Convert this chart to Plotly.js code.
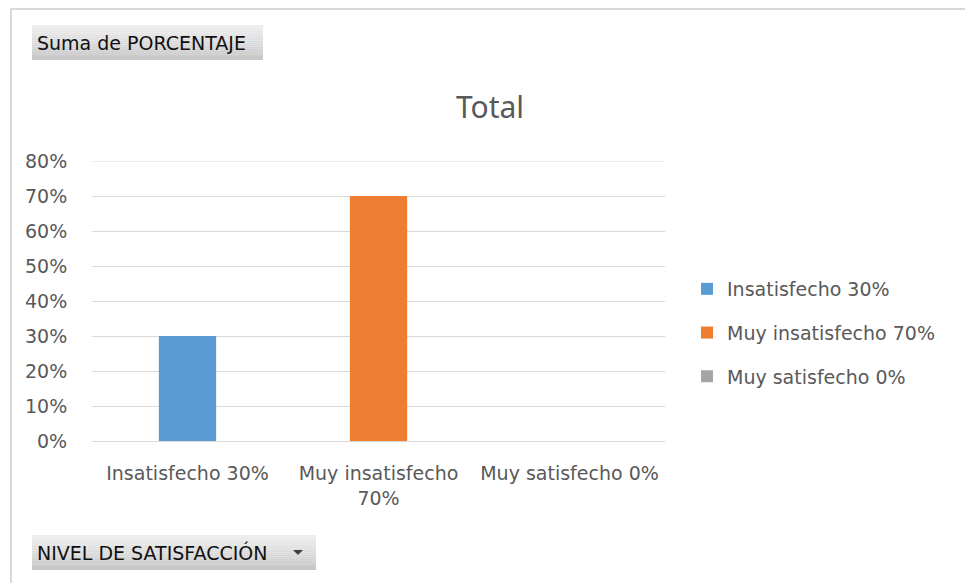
<!DOCTYPE html>
<html>
<head>
<meta charset="utf-8">
<script src="https://cdn.plot.ly/plotly-3.0.1.min.js"></script>
<style>
html,body{margin:0;padding:0;background:#fff;}
#chart{width:965px;height:583px;}
</style>
</head>
<body>
<div id="chart"></div>
<script>
var categories = ["Insatisfecho 30%", "Muy insatisfecho 70%", "Muy satisfecho 0%"];
var tickLabels = ["Insatisfecho 30%", "Muy insatisfecho<br>70%", "Muy satisfecho 0%"];
var values = [0.30, 0.70, 0.00];
var yTicks = [0, 0.1, 0.2, 0.3, 0.4, 0.5, 0.6, 0.7, 0.8];
var colors = ["#5b9bd5", "#ed7d31", "#a5a5a5"];

var FONT = "DejaVu Sans, Noto Sans, sans-serif";
var TFONT = "Noto Sans, Open Sans, sans-serif";
var TXT = "#595959";

var traces = categories.map(function(c, i){
  return {
    type: "bar",
    x: [c],
    y: [values[i]],
    name: categories[i],
    legendgroup: "g" + i,
    marker: {color: colors[i]},
    width: 0.3,
    hoverinfo: "x+y"
  };
});

// pixel helpers for paper coords (plot area: x 92..665, y 161..441)
var L = 92, R = 665, T = 161, B = 441;
function px(x){ return (x - L) / (R - L); }
function py(y){ return (B - y) / (B - T); }

function gradBox(x0, y0, x1, y1){
  var out = [];
  var n = 18;
  var top = [238,238,238], bot = [198,198,198];
  for (var k = 0; k < n; k++){
    var t = k / (n - 1);
    var c = top.map(function(v, j){ return Math.round(v + (bot[j] - v) * t); });
    out.push({type: "rect", xref: "paper", yref: "paper", layer: "below",
      x0: px(x0), x1: px(x1),
      y0: py(y0 + (y1 - y0) * k / n), y1: py(y0 + (y1 - y0) * (k + 1) / n),
      fillcolor: "rgb(" + c.join(",") + ")", line: {width: 0}});
  }
  return out;
}

var shapes = [];
// chart outer border (top and left)
shapes.push({type: "line", xref: "paper", yref: "paper", x0: px(10), x1: px(965), y0: py(9), y1: py(9), line: {color: "#d9d9d9", width: 2}});
shapes.push({type: "line", xref: "paper", yref: "paper", x0: px(11), x1: px(11), y0: py(9), y1: py(583), line: {color: "#d9d9d9", width: 2}});
// top gridline at the range end
shapes.push({type: "line", xref: "paper", yref: "y", layer: "below", x0: 0, x1: 1, y0: yTicks[yTicks.length - 1], y1: yTicks[yTicks.length - 1], line: {color: "#d9d9d9", width: 1}});
shapes = shapes.concat(gradBox(32, 25, 263, 60));
shapes = shapes.concat(gradBox(32, 535, 316, 570));
// dropdown triangle
shapes.push({type: "path", xref: "paper", yref: "paper",
  path: "M " + px(293) + "," + py(550) + " L " + px(303) + "," + py(550) + " L " + px(298) + "," + py(555) + " Z",
  fillcolor: "#404040", line: {width: 0}});

var annotations = [
  {xref: "paper", yref: "paper", x: px(35), y: py(43), xanchor: "left", yanchor: "middle",
   text: "Suma de PORCENTAJE", showarrow: false, font: {family: FONT, size: 19, color: "#111"}},
  {xref: "paper", yref: "paper", x: px(35), y: py(552), xanchor: "left", yanchor: "middle",
   text: "NIVEL DE SATISFACCIÓN", showarrow: false, font: {family: FONT, size: 19, color: "#111"}}
];

var layout = {
  width: 965, height: 583,
  margin: {l: L, r: 965 - R, t: T, b: 583 - B, pad: 0},
  paper_bgcolor: "#fff", plot_bgcolor: "#fff",
  barmode: "overlay",
  title: {text: "Total", x: 490 / 965, xanchor: "center", y: 1 - 107 / 583, yanchor: "middle",
          font: {family: TFONT, size: 30, color: TXT}},
  xaxis: {
    type: "category",
    tickmode: "array", tickvals: categories, ticktext: tickLabels,
    showgrid: false, zeroline: false, showline: true, linecolor: "#d9d9d9", linewidth: 1,
    ticks: "", ticklabelstandoff: 15, tickfont: {family: FONT, size: 19, color: TXT}
  },
  yaxis: {
    range: [0, 0.8], tickmode: "array", tickvals: yTicks, tickformat: ".0%",
    showgrid: true, gridcolor: "#d9d9d9", gridwidth: 1, zeroline: false, showline: false,
    ticks: "outside", ticklen: 20, tickcolor: "rgba(0,0,0,0)",
    tickfont: {family: FONT, size: 19, color: TXT}
  },
  legend: {
    x: px(687), y: py(270), xanchor: "left", yanchor: "top",
    font: {family: FONT, size: 19, color: TXT},
    tracegroupgap: 16, itemwidth: 30, bgcolor: "rgba(0,0,0,0)"
  },
  showlegend: true,
  shapes: shapes,
  annotations: annotations
};

Plotly.newPlot("chart", traces, layout, {displayModeBar: false, staticPlot: true});
</script>
</body>
</html>
